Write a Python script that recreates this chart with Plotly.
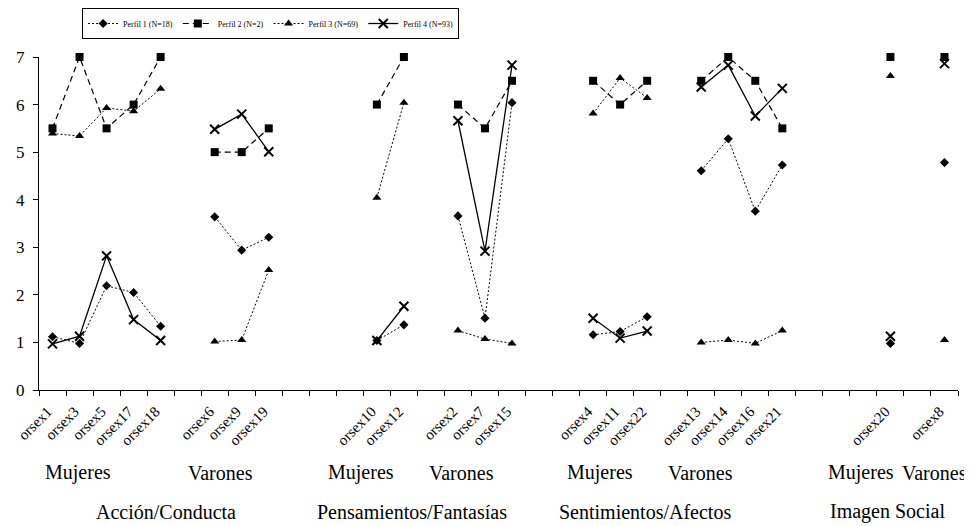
import plotly.graph_objects as go

# ---------------- data ----------------
group_names = ["Mujeres", "Varones", "Mujeres", "Varones", "Mujeres", "Varones", "Mujeres", "Varones"]
group_cats = [
    ["orsex1", "orsex3", "orsex5", "orsex17", "orsex18"],
    ["orsex6", "orsex9", "orsex19"],
    ["orsex10", "orsex12"],
    ["orsex2", "orsex7", "orsex15"],
    ["orsex4", "orsex11", "orsex22"],
    ["orsex13", "orsex14", "orsex16", "orsex21"],
    ["orsex20"],
    ["orsex8"],
]
blanks_after = [1, 3, 1, 2, 1, 3, 1, 0]
domains = ["Acción/Conducta", "Pensamientos/Fantasías", "Sentimientos/Afectos", "Imagen Social"]

perfil1 = [1.12, 0.98, 2.19, 2.05, 1.34, 3.64, 2.94, 3.21, 1.04, 1.37, 3.66, 1.51, 6.04,
           1.16, 1.23, 1.54, 4.61, 5.28, 3.76, 4.73, 0.98, 4.78]
perfil2 = [5.5, 7.0, 5.5, 6.0, 7.0, 5.0, 5.0, 5.5, 6.0, 7.0, 6.0, 5.5, 6.5,
           6.5, 6.0, 6.5, 6.5, 7.0, 6.5, 5.5, 7.0, 7.0]
perfil3 = [5.39, 5.34, 5.93, 5.86, 6.33, 1.02, 1.05, 2.52, 4.04, 6.04, 1.25, 1.07, 0.98,
           5.81, 6.56, 6.14, 1.00, 1.05, 0.98, 1.25, 6.6, 1.05]
perfil4 = [0.97, 1.13, 2.82, 1.48, 1.04, 5.48, 5.80, 5.01, 1.04, 1.76, 5.66, 2.92, 6.83,
           1.51, 1.09, 1.24, 6.37, 6.83, 5.76, 6.34, 1.13, 6.86]
series_names = ["Perfil 1 (N=18)", "Perfil 2 (N=2)", "Perfil 3 (N=69)", "Perfil 4 (N=93)"]

# ---------------- slot layout ----------------
slot_x = []
pos = 0
for cats, b in zip(group_cats, blanks_after):
    slot_x.extend(range(pos, pos + len(cats)))
    pos += len(cats) + b
n_slots = pos
all_cats = [c for g in group_cats for c in g]


def with_gaps(values):
    xs, ys = [], []
    i = 0
    for cats in group_cats:
        for _ in cats:
            xs.append(slot_x[i])
            ys.append(values[i])
            i += 1
        xs.append(None)
        ys.append(None)
    return xs, ys


styles = [
    dict(symbol="diamond", size=7, dash="2px,2px", lw=1),
    dict(symbol="square", size=8, dash="6px,4px", lw=1.2),
    dict(symbol="triangle-up", size=8, dash="2px,2px", lw=1),
    dict(symbol="x-thin", size=9, dash="solid", lw=1.3),
]

fig = go.Figure()
for name, vals, st in zip(series_names, [perfil1, perfil2, perfil3, perfil4], styles):
    xs, ys = with_gaps(vals)
    fig.add_trace(go.Scatter(
        x=xs, y=ys, name=name, mode="lines+markers", connectgaps=False,
        line=dict(color="black", width=st["lw"], dash=st["dash"]),
        marker=dict(symbol=st["symbol"], size=st["size"], color="black",
                    line=dict(color="black", width=2 if st["symbol"] == "x-thin" else 0)),
        cliponaxis=False,
    ))

font_family = "Liberation Serif"

sub_label_x = [0.94, 6.23, 11.4, 15.13, 20.25, 23.98, 29.9, 32.64]
domain_label_x = [4.18, 13.3, 21.91, 30.9]
annotations = []
for name, x in zip(group_names, sub_label_x):
    annotations.append(dict(x=x, y=-0.248, xref="x", yref="paper", text=name, showarrow=False,
                            font=dict(family=font_family, size=20, color="black"),
                            xanchor="center", yanchor="middle"))
for name, x in zip(domains, domain_label_x):
    annotations.append(dict(x=x, y=-0.366, xref="x", yref="paper", text=name, showarrow=False,
                            font=dict(family=font_family, size=20, color="black"),
                            xanchor="center", yanchor="middle"))

# the page body adds an 8px offset, so the figure is 8px smaller than the window
fig.update_layout(
    width=964, height=518,
    margin=dict(l=31, r=14, t=49, b=136, autoexpand=False),
    plot_bgcolor="white", paper_bgcolor="white",
    font=dict(family=font_family, color="black"),
    showlegend=True,
    legend=dict(orientation="h", x=0.252, xanchor="center",
                yref="container", y=1.0, yanchor="top",
                bordercolor="black", borderwidth=1, bgcolor="white",
                font=dict(family=font_family, size=8, color="black"),
                itemwidth=30, tracegroupgap=0),
    xaxis=dict(range=[-0.5, n_slots - 0.5], showgrid=False, zeroline=False, automargin=False,
               showline=True, linecolor="black", linewidth=1,
               tickmode="array", tickvals=slot_x, ticktext=all_cats, ticks="",
               tickangle=-45, tickfont=dict(family=font_family, size=15, color="black"),
               ticklabelstandoff=6, ticklabelshift=-5,
               minor=dict(tickmode="linear", tick0=-0.5, dtick=1, ticks="outside",
                          ticklen=5, tickcolor="black", tickwidth=1, showgrid=False)),
    yaxis=dict(range=[0, 7], dtick=1, showgrid=False, zeroline=False, automargin=False,
               showline=True, linecolor="black", linewidth=1,
               ticks="outside", ticklen=5, tickcolor="black", ticklabelstandoff=5,
               tickfont=dict(family=font_family, size=17, color="black")),
    annotations=annotations,
)

fig.write_html("out.html")
